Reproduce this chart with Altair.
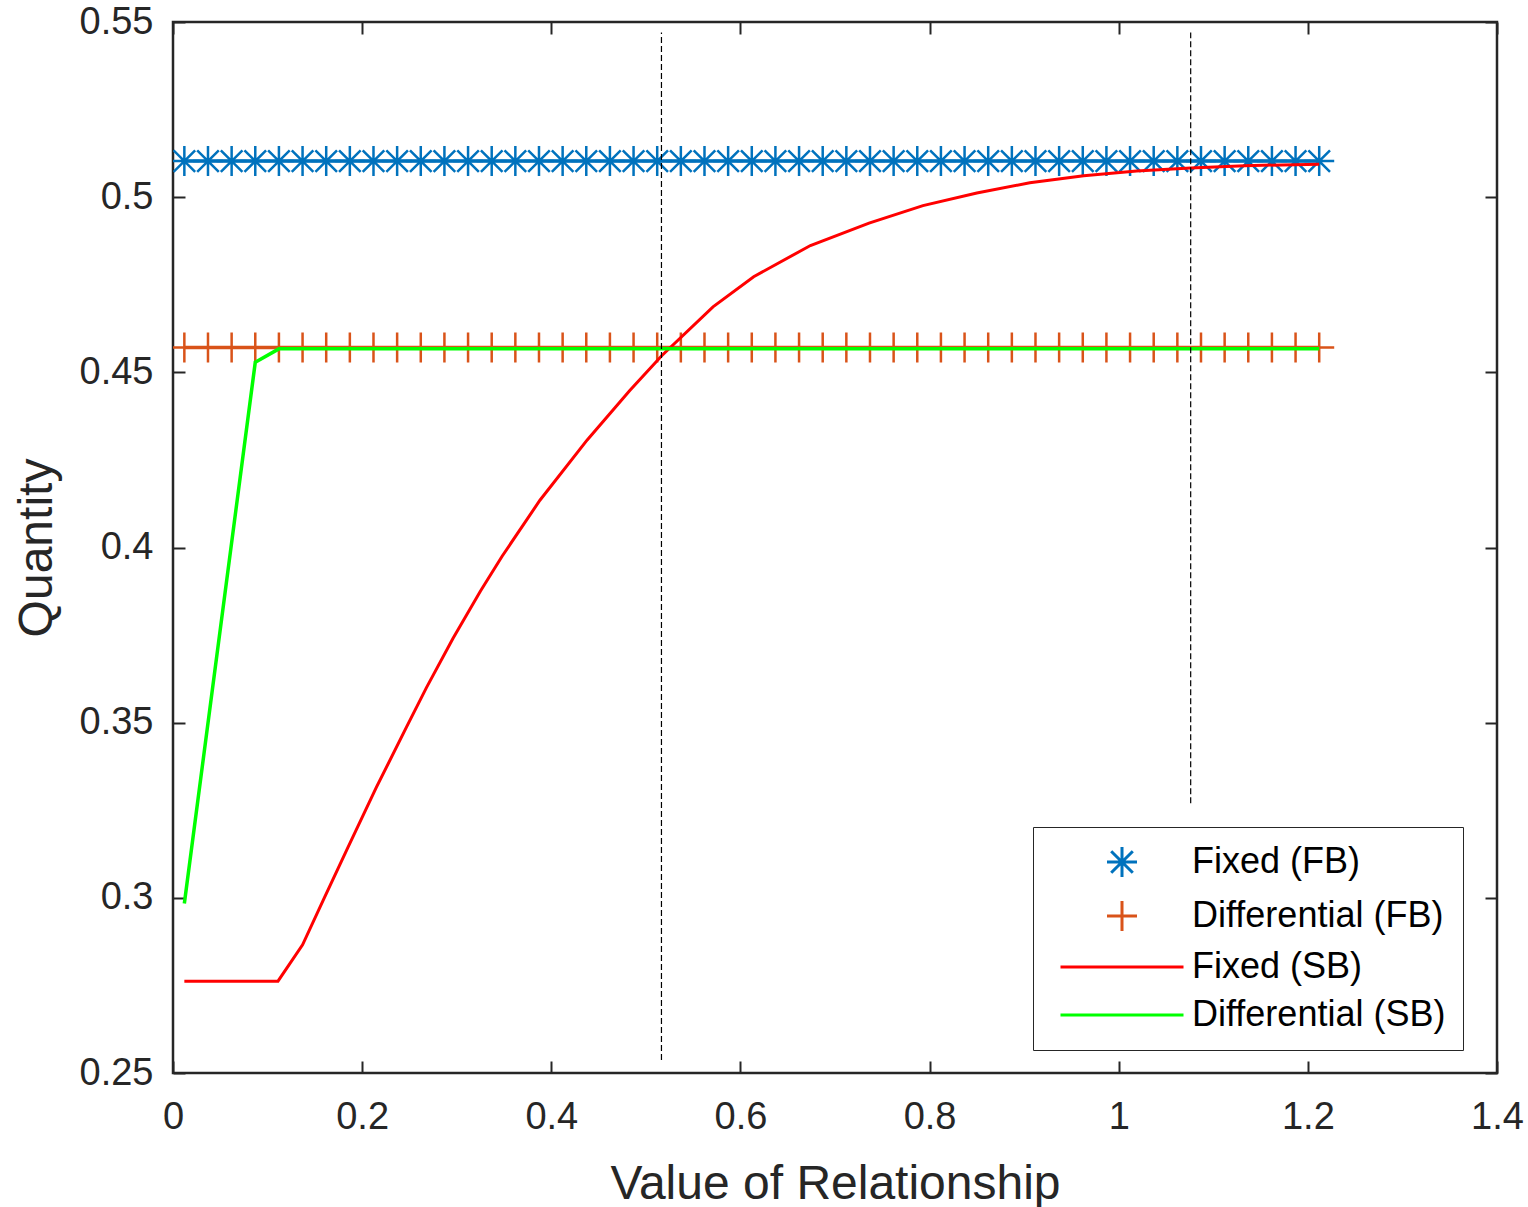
import altair as alt
import pandas as pd

FONT = "Liberation Sans"
INK = "#262626"

# Series names, colours and legend symbols
names = ["Fixed (FB)", "Differential (FB)", "Fixed (SB)", "Differential (SB)"]
colors = ["#0072BD", "#D95319", "#FF0000", "#00FF00"]
asterisk = "M-1,0L1,0M0,-1L0,1M-0.72,-0.72L0.72,0.72M-0.72,0.72L0.72,-0.72"
plus = "M-1,0L1,0M0,-1L0,1"
dash = "M-4.1,0L4.1,0"
shapes = [asterisk, plus, dash, dash]

# First-best series (marker lines)
x_fb = [0.012, 0.037, 0.062, 0.087, 0.112, 0.137, 0.162, 0.187, 0.212, 0.237,
        0.262, 0.287, 0.312, 0.337, 0.362, 0.387, 0.412, 0.437, 0.462, 0.487,
        0.512, 0.537, 0.562, 0.587, 0.612, 0.637, 0.662, 0.687, 0.712, 0.737,
        0.762, 0.787, 0.812, 0.837, 0.862, 0.887, 0.912, 0.937, 0.962, 0.987,
        1.012, 1.037, 1.062, 1.087, 1.112, 1.137, 1.162, 1.187, 1.212]
y_fixed_fb = [0.5103] * len(x_fb)
y_diff_fb = [0.4571] * len(x_fb)

# Second-best series
x_fixed_sb = [0.012, 0.111, 0.137, 0.159, 0.184, 0.215, 0.247, 0.268, 0.296, 0.325,
              0.348, 0.388, 0.438, 0.483, 0.517, 0.571, 0.614, 0.674, 0.736, 0.793,
              0.850, 0.906, 0.963, 1.019, 1.076, 1.133, 1.212]
y_fixed_sb = [0.2762, 0.2762, 0.2866, 0.2994, 0.3138, 0.3315, 0.3488, 0.3600, 0.3740, 0.3875,
              0.3975, 0.4135, 0.4307, 0.4448, 0.4548, 0.4687, 0.4773, 0.4862, 0.4926, 0.4976,
              0.5012, 0.5041, 0.5061, 0.5075, 0.5083, 0.5090, 0.5094]
x_diff_sb = [0.012, 0.087, 0.112, 1.212]
y_diff_sb = [0.2984, 0.4529, 0.4567, 0.4567]

# Dashed reference lines
x_ref = [0.5165, 1.0761]
y_ref_top = [0.547, 0.547]
y_ref_bottom = [0.2537, 0.327]

fb = pd.concat([
    pd.DataFrame({"x": x_fb, "y": y_fixed_fb, "series": names[0]}),
    pd.DataFrame({"x": x_fb, "y": y_diff_fb, "series": names[1]}),
])
fixed_sb = pd.DataFrame({"x": x_fixed_sb, "y": y_fixed_sb, "series": names[2]})
diff_sb = pd.DataFrame({"x": x_diff_sb, "y": y_diff_sb, "series": names[3]})
refs = pd.DataFrame({"x": x_ref, "y1": y_ref_bottom, "y2": y_ref_top})

xscale = alt.Scale(domain=[0, 1.4], nice=False, zero=False)
yscale = alt.Scale(domain=[0.25, 0.55], nice=False, zero=False)
cscale = alt.Scale(domain=names, range=colors)
sscale = alt.Scale(domain=names, range=shapes)

x_ticks = [0, 0.2, 0.4, 0.6, 0.8, 1.0, 1.2, 1.4]
y_ticks = [0.25, 0.3, 0.35, 0.4, 0.45, 0.5, 0.55]

legend = alt.Legend(
    title=None, orient="none", legendX=860, legendY=805,
    padding=17, symbolSize=900, symbolStrokeWidth=3, symbolOffset=54,
    symbolFillColor="transparent",
    labelOffset=52, labelFontSize=36, labelFont=FONT, labelColor="black",
    labelLimit=500, rowPadding=12, strokeColor=INK, fillColor="white",
)
color = alt.Color("series:N", scale=cscale, legend=legend)

x_bottom = alt.X("x:Q", scale=xscale, axis=alt.Axis(
    orient="bottom", values=x_ticks, format="~g", title="Value of Relationship",
    labelPadding=25, titlePadding=24))
y_left = alt.Y("y:Q", scale=yscale, axis=alt.Axis(
    orient="left", values=y_ticks, format="~g", title="Quantity",
    labelPadding=20, titlePadding=18))
x_top = alt.X("x:Q", scale=xscale, axis=alt.Axis(
    orient="top", values=x_ticks, labels=False, title=None))
y_right = alt.Y("y:Q", scale=yscale, axis=alt.Axis(
    orient="right", values=y_ticks, labels=False, title=None))
x_plain = alt.X("x:Q", scale=xscale, axis=None)
y_plain = alt.Y("y:Q", scale=yscale, axis=None)

fb_points = alt.Chart(fb).mark_point(
    filled=False, size=900, strokeWidth=2.5, opacity=1, clip=True
).encode(
    x=x_plain, y=y_plain, color=color,
    shape=alt.Shape("series:N", scale=sscale, legend=legend),
)

fb_lines = alt.Chart(fb).mark_line(strokeWidth=3.5).encode(
    x=x_bottom, y=y_left, color=color, detail="series:N")

fb_axes2 = alt.Chart(fb).mark_line(strokeWidth=3, opacity=0).encode(
    x=x_top, y=y_right, color=color, detail="series:N")

fixed_line = alt.Chart(fixed_sb).mark_line(strokeWidth=3).encode(
    x=x_plain, y=y_plain, color=color)

diff_line = alt.Chart(diff_sb).mark_line(strokeWidth=3.5).encode(
    x=x_plain, y=y_plain, color=color)

ref_lines = alt.Chart(refs).mark_rule(color="black", strokeWidth=1.2, strokeDash=[6, 3]).encode(
    x=alt.X("x:Q", scale=xscale, axis=None),
    y=alt.Y("y1:Q", scale=yscale, axis=None),
    y2="y2:Q",
)

chart = alt.layer(
    fb_points, fb_lines, fb_axes2, fixed_line, diff_line, ref_lines
).properties(
    width=1324, height=1051,
    autosize=alt.AutoSizeParams(type="none"),
    padding={"left": 173, "top": 22, "right": 31, "bottom": 134},
    background="white",
).configure_view(
    stroke=INK, strokeWidth=2.5,
).configure_axis(
    grid=False, domain=False, offset=-12, tickSize=12, tickWidth=2, tickColor=INK,
    labelFlush=False, labelOverlap=False,
    labelFont=FONT, labelFontSize=38, labelColor=INK,
    titleFont=FONT, titleFontSize=48, titleFontWeight="normal", titleColor=INK,
)

chart.save("out.html", embed_options={"renderer": "svg", "actions": False})
